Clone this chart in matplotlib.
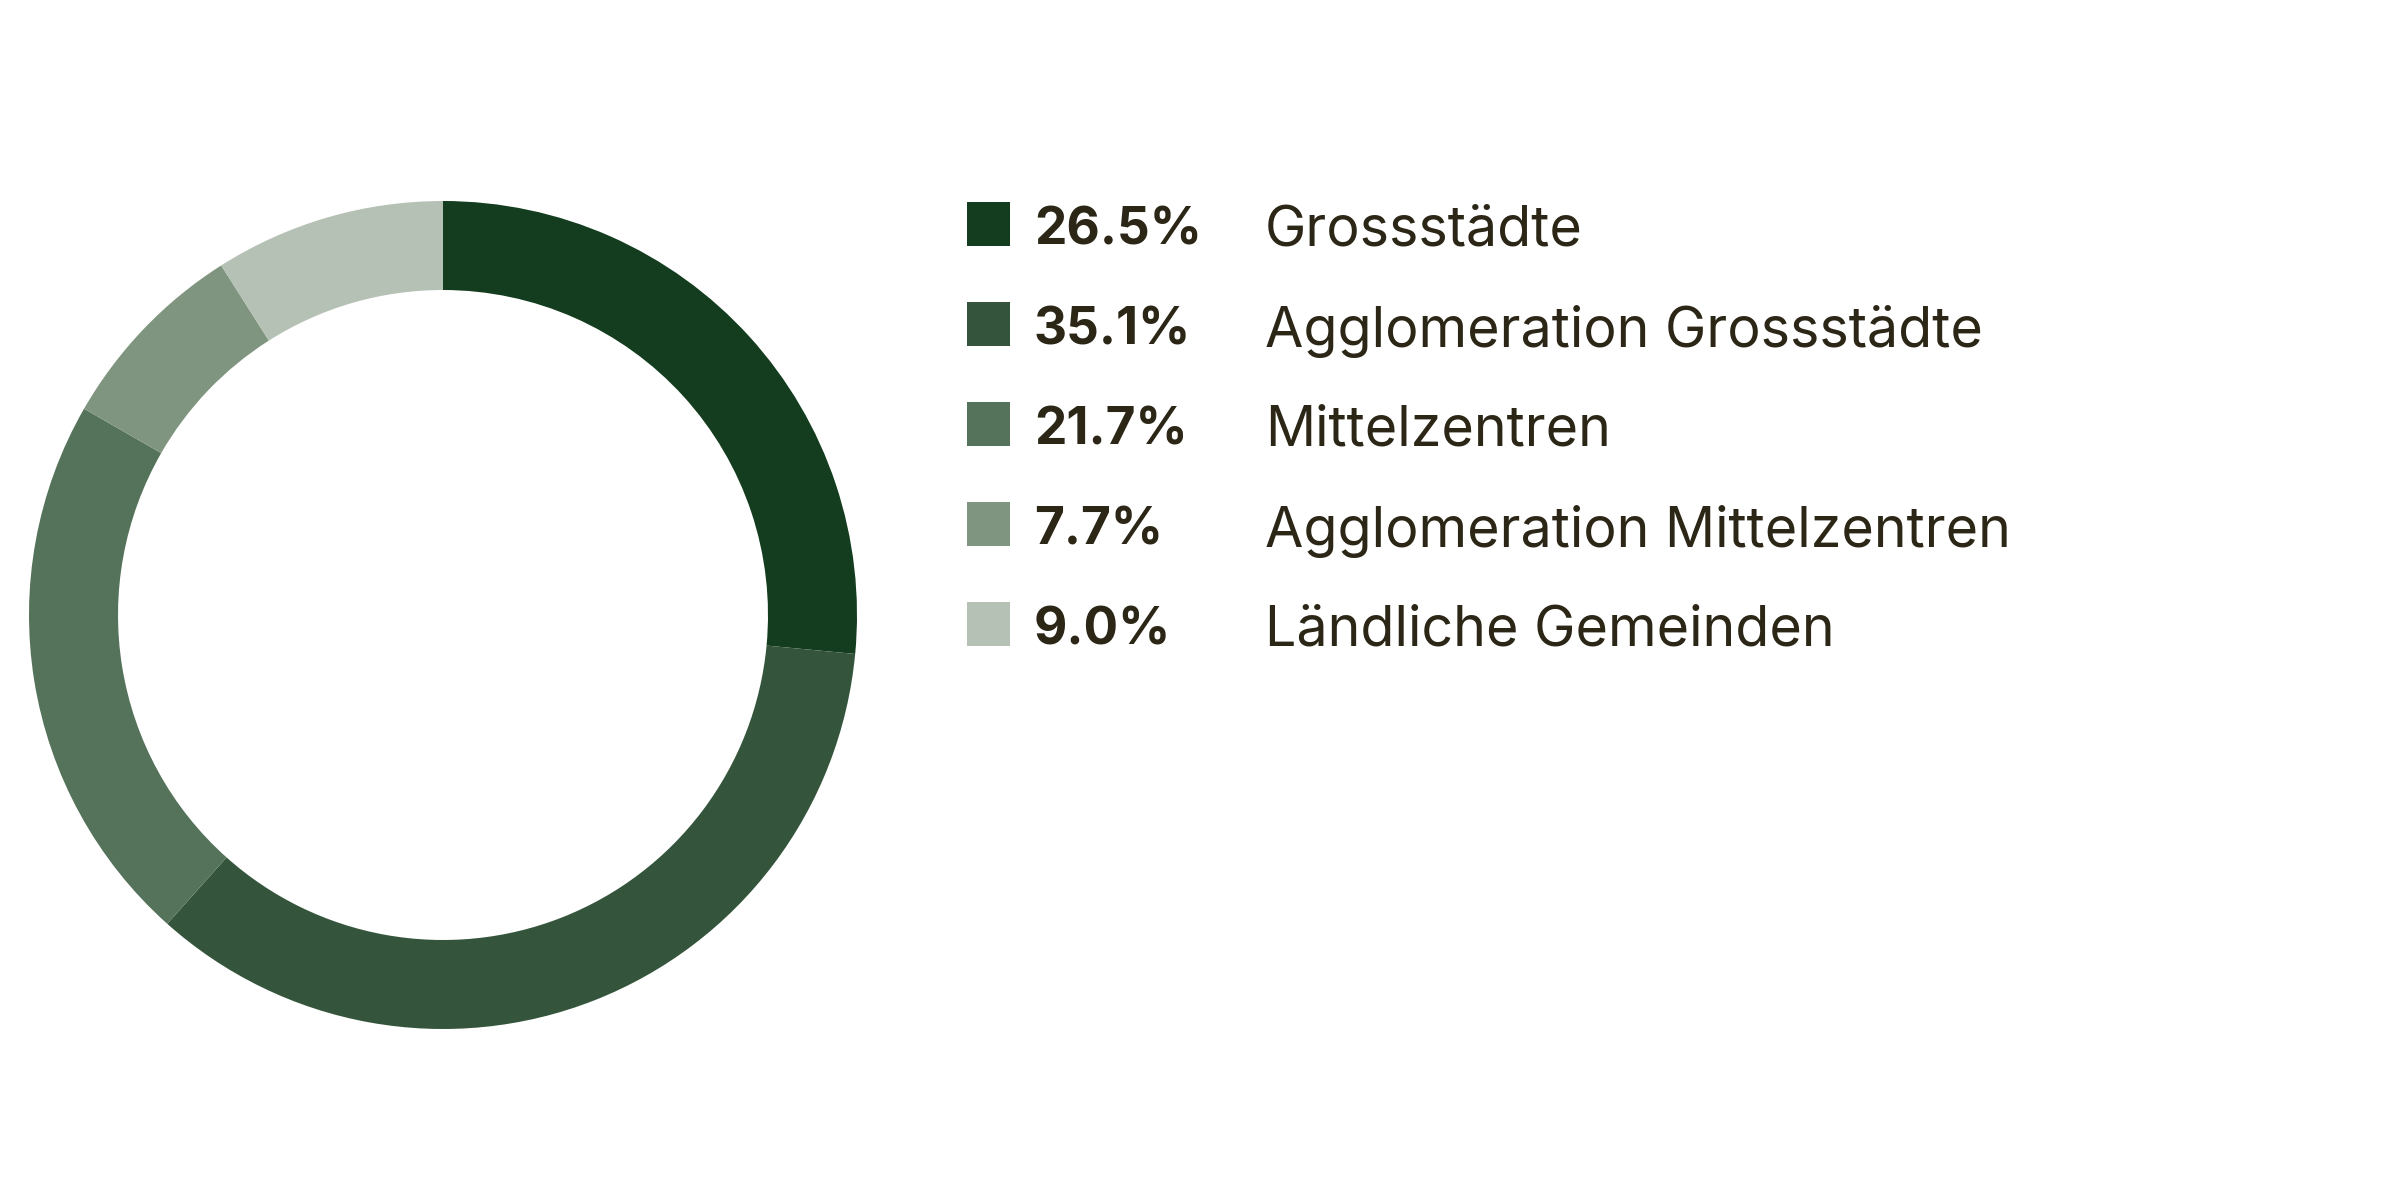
import matplotlib.pyplot as plt

categories = ["Grossstädte", "Agglomeration Grossstädte", "Mittelzentren",
              "Agglomeration Mittelzentren", "Ländliche Gemeinden"]
shares = [26.5, 35.1, 21.7, 7.7, 9.0]
colors = ["#133d1e", "#34553c", "#55725a", "#80957f", "#b5c1b5"]

text_color = "#2b2616"
plt.rcParams["font.family"] = ["Inter", "DejaVu Sans"]

fig = plt.figure(figsize=(24, 12), dpi=100)

# donut on the left
ax = fig.add_axes([29 / 2400, 171 / 1200, 828 / 2400, 828 / 1200])
ax.pie(shares, colors=colors, startangle=90, counterclock=False,
       radius=1.0, wedgeprops=dict(width=0.215, linewidth=0))
ax.set_aspect("equal")
ax.set_xlim(-1, 1)
ax.set_ylim(-1, 1)
ax.axis("off")

# legend as separate texts
leg = fig.add_axes([0, 0, 1, 1])
leg.set_xlim(0, 2400)
leg.set_ylim(1200, 0)
leg.axis("off")

y0 = 228
step = 100
for i, (cat, val, col) in enumerate(zip(categories, shares, colors)):
    y = y0 + i * step
    leg.add_patch(plt.Rectangle((967, y - 26), 43, 44, facecolor=col, edgecolor="none"))
    leg.text(1034, y + 3, f"{val:.1f}%", fontsize=37, fontweight="bold",
             color=text_color, va="center", ha="left")
    leg.text(1265, y + 3, cat, fontsize=40, color=text_color, va="center", ha="left")

fig.savefig("out.png", dpi=100, facecolor="white")
